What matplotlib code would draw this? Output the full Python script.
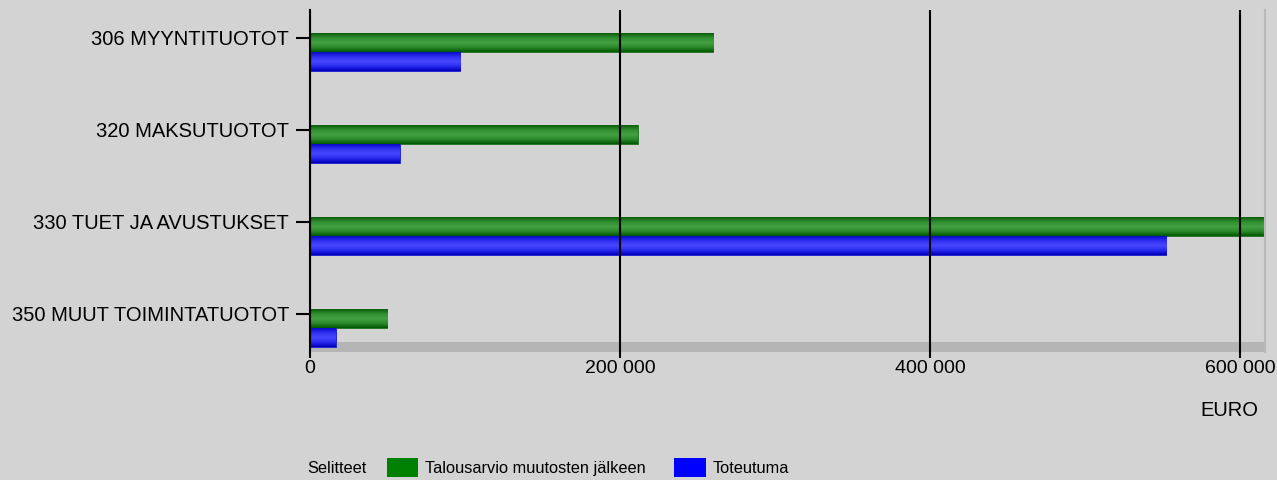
import matplotlib
matplotlib.use("Agg")
import matplotlib.pyplot as plt
import numpy as np
from matplotlib.colors import LinearSegmentedColormap
from matplotlib.patches import Rectangle
from matplotlib.ticker import FuncFormatter

categories = ["306 MYYNTITUOTOT", "320 MAKSUTUOTOT", "330 TUET JA AVUSTUKSET", "350 MUUT TOIMINTATUOTOT"]
budget = [260000, 211500, 616000, 49700]
actual = [97000, 58000, 552500, 16600]
series_names = ["Talousarvio muutosten jälkeen", "Toteutuma"]
xticks = [0, 200000, 400000, 600000]

plt.rcParams['font.family'] = ['Liberation Sans', 'DejaVu Sans']
BG = "#d3d3d3"
LEG_FS = 11.8

fig = plt.figure(figsize=(12.77, 4.80), dpi=100, facecolor=BG)
ax = fig.add_axes([310/1277, 1-352/480, (1265-310)/1277, (352-10)/480])
ax.set_facecolor(BG)

y = np.arange(len(categories))
h = 0.206
off_g = 0.049
off_b = 0.255

green_cmap = LinearSegmentedColormap.from_list("g", ["#0b5e0b", "#2f8f2f", "#43a043", "#2d8a2d", "#005800"])
blue_cmap = LinearSegmentedColormap.from_list("b", ["#0a0ac8", "#3030f0", "#4848ff", "#2a2af0", "#0000b8"])
grad = np.linspace(0, 1, 64).reshape(-1, 1)

bg = ax.barh(y + off_g, budget, height=h, color="#2f8f2f", edgecolor="#1c6e1c", linewidth=0.6, zorder=2)
bb = ax.barh(y + off_b, actual, height=h, color="#3030f0", edgecolor="#1a1ad0", linewidth=0.6, zorder=2)
for bars, cm in ((bg, green_cmap), (bb, blue_cmap)):
    for r in bars:
        x0, y0 = r.get_x(), r.get_y()
        w, hh = r.get_width(), r.get_height()
        ax.imshow(grad, extent=[x0, x0 + w, y0 + hh, y0], aspect="auto", cmap=cm,
                  zorder=2.5, interpolation="bilinear")

xmax = 616100
ymin, ymax = -0.304, 3.413
# floor strip
ax.add_patch(Rectangle((0, 3.304), xmax, ymax - 3.304, facecolor="#b5b5b5", edgecolor="none", zorder=1))

ax.set_xlim(0, xmax)
ax.set_ylim(ymax, ymin)

ax.set_xticks(xticks)
ax.xaxis.set_major_formatter(FuncFormatter(lambda v, p: f"{int(v):,}".replace(",", " ")))
ax.set_yticks(y)
ax.set_yticklabels(categories)
ax.grid(axis="x", color="black", linewidth=1.5, zorder=5)
ax.set_axisbelow(False)
ax.tick_params(axis="x", length=4, width=1.5, color="black", labelsize=14, pad=2)
ax.tick_params(axis="y", length=10, width=1.5, color="black", labelsize=14.5, pad=5)

for s in ("top", "bottom"):
    ax.spines[s].set_visible(False)
ax.spines["left"].set_color("black")
ax.spines["left"].set_linewidth(1.5)
ax.spines["left"].set_zorder(6)
ax.spines["right"].set_color("#b8b8b8")
ax.spines["right"].set_linewidth(1.5)

fig.text(1229/1277, 1-411/480, "EURO", fontsize=14.5, ha="center", va="center")

# legend
ly = 1 - 473/480
fig.text(307/1277, ly, "Selitteet", fontsize=LEG_FS, ha="left", va="baseline")
fig.patches.append(Rectangle((387/1277, 1-477/480), 31/1277, 19/480, transform=fig.transFigure,
                             facecolor="#008000", edgecolor="none"))
fig.text(425/1277, ly, series_names[0], fontsize=LEG_FS, ha="left", va="baseline")
fig.patches.append(Rectangle((674/1277, 1-477/480), 32/1277, 19/480, transform=fig.transFigure,
                             facecolor="#0000ff", edgecolor="none"))
fig.text(713/1277, ly, series_names[1], fontsize=LEG_FS, ha="left", va="baseline")

fig.savefig("out.png", dpi=100, facecolor=BG)
